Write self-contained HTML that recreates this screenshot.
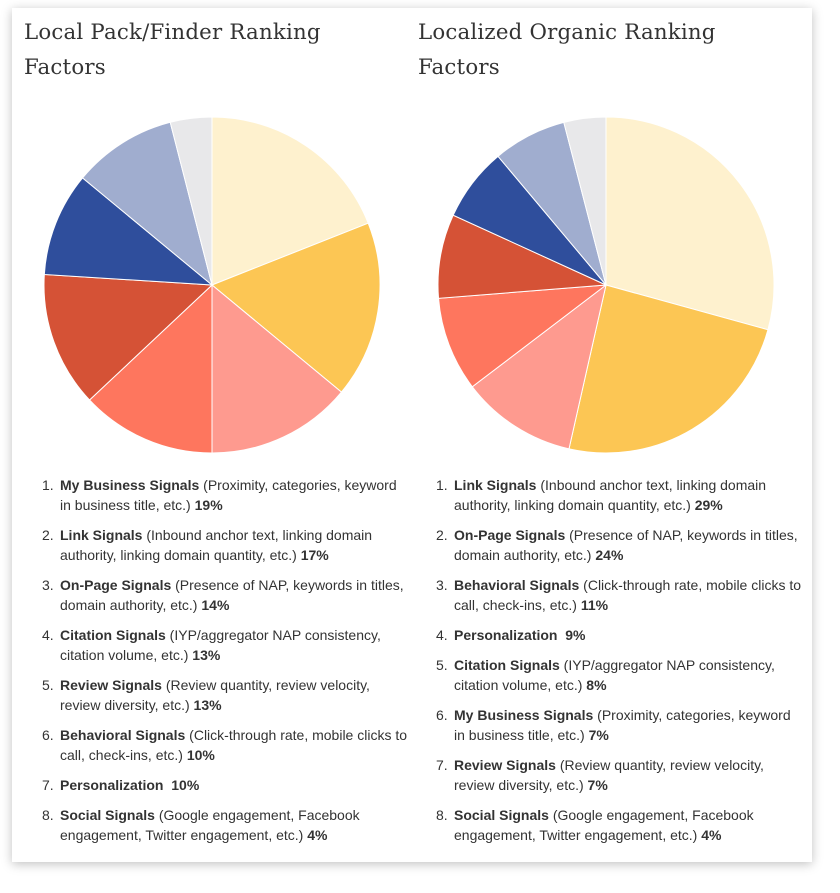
<!DOCTYPE html>
<html><head><meta charset="utf-8"><style>
body{margin:0;background:#fff;width:840px;height:893px;position:relative;overflow:hidden;font-family:"Liberation Sans",sans-serif;color:#333}
.card{position:absolute;left:12px;top:8px;width:800px;height:854px;background:#fff;box-shadow:0 2px 10px rgba(0,0,0,0.25)}
h2{position:absolute;margin:0;font-family:"DejaVu Serif","Liberation Serif",serif;font-weight:normal;font-size:21.3px;line-height:35px;color:#333;letter-spacing:0.2px}
ol{position:absolute;margin:0;padding:0;list-style:none;font-size:14px;line-height:20px;color:#333}
ol li{position:relative;padding-left:36px;margin-bottom:10px;white-space:nowrap}
ol li span.n{position:absolute;left:18px;top:0}
b{font-weight:bold}
svg{position:absolute;left:0;top:0}
</style></head><body>
<div class="card"></div>
<h2 style="left:24px;top:15px">Local Pack/Finder Ranking<br>Factors</h2>
<h2 style="left:418px;top:15px">Localized Organic Ranking<br>Factors</h2>
<svg width="840" height="893" id="s"></svg>
<ol style="left:24px;top:475px">
<li><span class="n">1.</span><b>My Business Signals</b> (Proximity, categories, keyword<br>in business title, etc.) <b>19%</b></li>
<li><span class="n">2.</span><b>Link Signals</b> (Inbound anchor text, linking domain<br>authority, linking domain quantity, etc.) <b>17%</b></li>
<li><span class="n">3.</span><b>On-Page Signals</b> (Presence of NAP, keywords in titles,<br>domain authority, etc.) <b>14%</b></li>
<li><span class="n">4.</span><b>Citation Signals</b> (IYP/aggregator NAP consistency,<br>citation volume, etc.) <b>13%</b></li>
<li><span class="n">5.</span><b>Review Signals</b> (Review quantity, review velocity,<br>review diversity, etc.) <b>13%</b></li>
<li><span class="n">6.</span><b>Behavioral Signals</b> (Click-through rate, mobile clicks to<br>call, check-ins, etc.) <b>10%</b></li>
<li><span class="n">7.</span><b>Personalization&nbsp; 10%</b></li>
<li><span class="n">8.</span><b>Social Signals</b> (Google engagement, Facebook<br>engagement, Twitter engagement, etc.) <b>4%</b></li>
</ol>
<ol style="left:418px;top:475px">
<li><span class="n">1.</span><b>Link Signals</b> (Inbound anchor text, linking domain<br>authority, linking domain quantity, etc.) <b>29%</b></li>
<li><span class="n">2.</span><b>On-Page Signals</b> (Presence of NAP, keywords in titles,<br>domain authority, etc.) <b>24%</b></li>
<li><span class="n">3.</span><b>Behavioral Signals</b> (Click-through rate, mobile clicks to<br>call, check-ins, etc.) <b>11%</b></li>
<li><span class="n">4.</span><b>Personalization&nbsp; 9%</b></li>
<li><span class="n">5.</span><b>Citation Signals</b> (IYP/aggregator NAP consistency,<br>citation volume, etc.) <b>8%</b></li>
<li><span class="n">6.</span><b>My Business Signals</b> (Proximity, categories, keyword<br>in business title, etc.) <b>7%</b></li>
<li><span class="n">7.</span><b>Review Signals</b> (Review quantity, review velocity,<br>review diversity, etc.) <b>7%</b></li>
<li><span class="n">8.</span><b>Social Signals</b> (Google engagement, Facebook<br>engagement, Twitter engagement, etc.) <b>4%</b></li>
</ol>
<script>
var C=["#FEF1CE","#FCC654","#FE9A8F","#FE765E","#D55236","#2F4E9C","#A0ADCF","#E8E8EA"];
function pie(cx,cy,r,v){var s=document.getElementById('s'),a=0,t=v.reduce((x,y)=>x+y,0),h='';
v.forEach(function(p,i){var b=a+p/t*2*Math.PI;
var x1=cx+r*Math.sin(a),y1=cy-r*Math.cos(a),x2=cx+r*Math.sin(b),y2=cy-r*Math.cos(b);
h+='<path d="M'+cx+','+cy+'L'+x1+','+y1+'A'+r+','+r+' 0 '+(b-a>Math.PI?1:0)+',1 '+x2+','+y2+'Z" fill="'+C[i]+'" stroke="#fff" stroke-width="1"/>';a=b;});
s.innerHTML+=h;}
pie(212,285,168,[19,17,14,13,13,10,10,4]);
pie(606,285,168,[29,24,11,9,8,7,7,4]);
</script>
</body></html>
